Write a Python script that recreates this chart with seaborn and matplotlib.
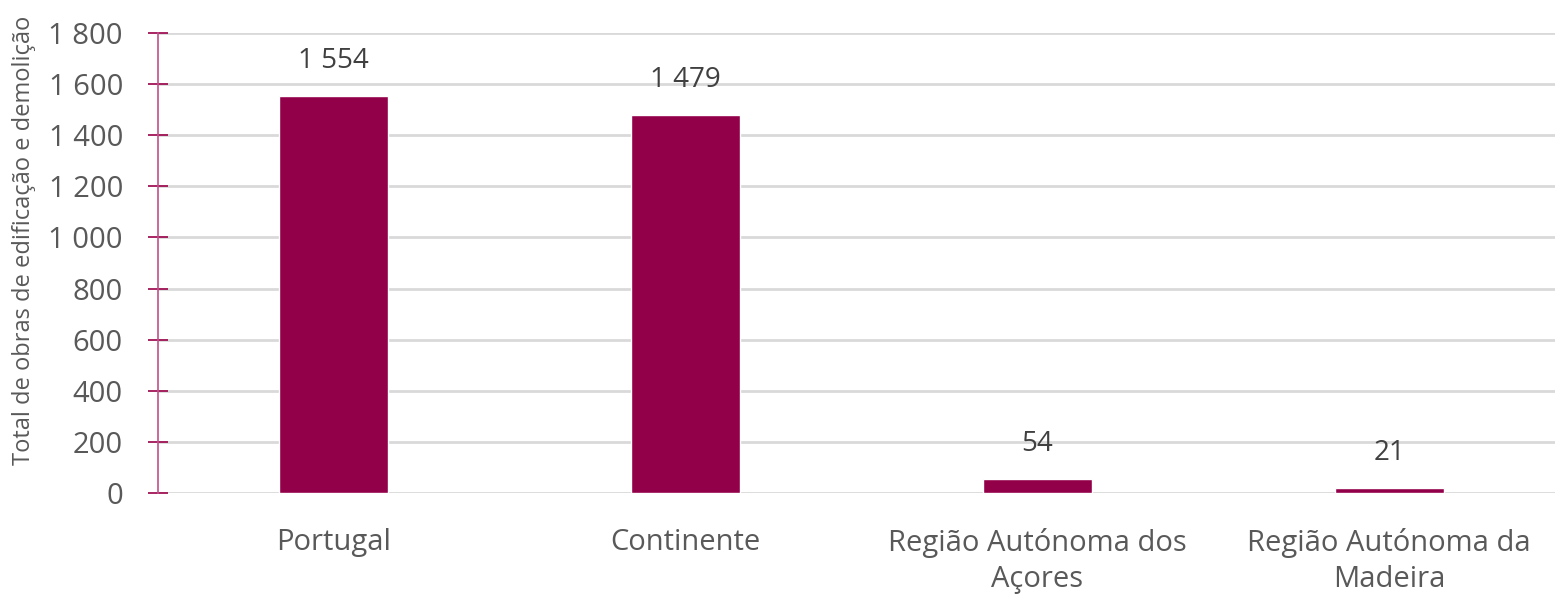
import matplotlib
matplotlib.use("Agg")
import matplotlib.pyplot as plt
import seaborn as sns
import pandas as pd

categories = ["Portugal", "Continente", "Região Autónoma dos\nAçores", "Região Autónoma da\nMadeira"]
values = [1554, 1479, 54, 21]
y_ticks = [0, 200, 400, 600, 800, 1000, 1200, 1400, 1600, 1800]
y_label = "Total de obras de edificação e demolição"

def fmt(v):
    return f"{v:,}".replace(",", " ")

sns.set_theme(style="white")
plt.rcParams["font.family"] = ["Open Sans", "DejaVu Sans"]

df = pd.DataFrame({"cat": categories, "val": values})

fig = plt.figure(figsize=(15.55, 6.01), dpi=100)
ax = fig.add_axes([158/1555, 1-493/601, 1-158/1555, (493-33)/601])

sns.barplot(data=df, x="cat", y="val", color="#93004A", saturation=1, width=0.31, ax=ax, zorder=3)

ax.set_ylim(0, 1800)
ax.set_xlim(-0.5, 3.5 - 10/352)
ax.set_yticks(y_ticks)
ax.set_yticklabels([fmt(t) for t in y_ticks], fontsize=21, color="#595959")
ax.set_xticks(range(len(categories)))
ax.set_xticklabels(categories, fontsize=21, color="#595959", linespacing=1.35)
ax.tick_params(axis="x", bottom=False, length=0, pad=25)
ax.tick_params(axis="y", left=True, direction="inout", length=14.5, width=1.2, color="#990048", pad=18)

ax.grid(axis="y", color="#D9D9D9", linewidth=2, zorder=0)
ax.set_axisbelow(True)
for s in ["top", "right", "bottom"]:
    ax.spines[s].set_visible(False)
ax.spines["left"].set_color("#C0508A")
ax.spines["left"].set_linewidth(1.2)

ax.set_xlabel("")
ax.set_ylabel(y_label, fontsize=17, color="#595959")
ax.yaxis.set_label_coords(-0.087, 0.55)

for i, v in enumerate(values):
    ax.annotate(fmt(v), (i, v), xytext=(0, 25), textcoords="offset points",
                ha="center", va="center", fontsize=20, color="#404040")

fig.savefig("out.png", dpi=100)
